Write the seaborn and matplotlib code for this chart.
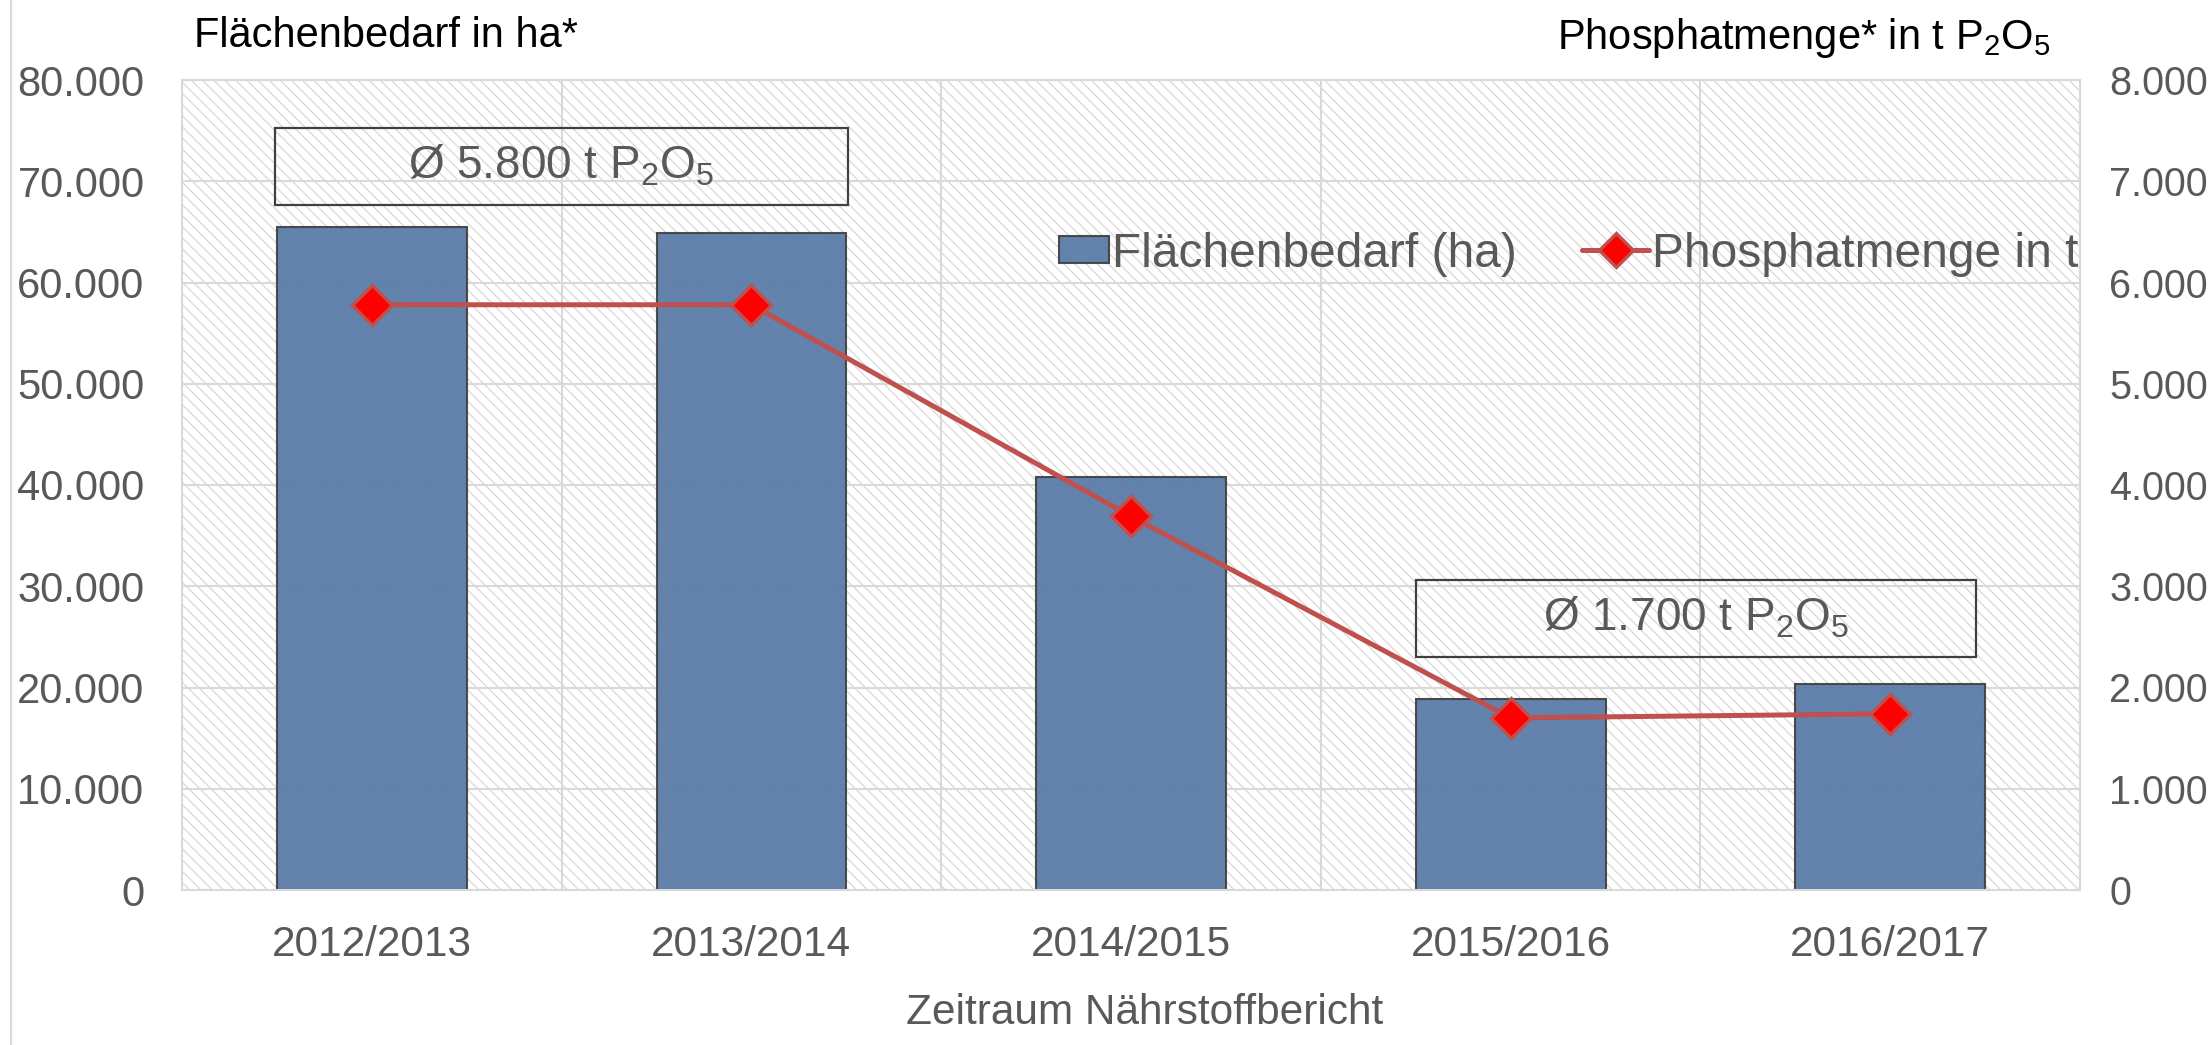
import numpy as np
import matplotlib
matplotlib.use('Agg')
import matplotlib.pyplot as plt
from matplotlib.patches import Rectangle
from matplotlib.lines import Line2D
from matplotlib.legend_handler import HandlerPatch
from matplotlib.ticker import FuncFormatter, MultipleLocator
import seaborn as sns

# Data
periods = ['2012/2013', '2013/2014', '2014/2015', '2015/2016', '2016/2017']
area_ha = [65500, 64900, 40750, 18900, 20350]
phosphate_t = [5780, 5780, 3690, 1700, 1740]

# Average annotations: (text, x-from, x-to, y-from, y-to) in category / hectare units
avg_notes = [
    ('Ø 5.800 t P$_2$O$_5$', -0.255, 1.254, 67700, 75300),
    ('Ø 1.700 t P$_2$O$_5$', 2.75, 4.227, 23050, 30660),
]

BAR_COLOR = '#577aa7'
LINE_COLOR = '#c0504d'
GRID = '#d9d9d9'
TEXT = '#595959'

sns.set_theme(style='white')
plt.rcParams['font.family'] = ['Liberation Sans', 'DejaVu Sans']
plt.rcParams['mathtext.fontset'] = 'custom'
plt.rcParams['mathtext.rm'] = 'Liberation Sans'
plt.rcParams['mathtext.it'] = 'Liberation Sans'
plt.rcParams['mathtext.default'] = 'regular'
plt.rcParams['hatch.linewidth'] = 0.9


def thousands(v, pos):
    return f'{int(round(v)):,}'.replace(',', '.')


def narrow_patch(legend, orig_handle, xdescent, ydescent, width, height, fontsize):
    w = width * 0.75
    h = height * 0.8
    return Rectangle((-xdescent + width - w, -ydescent + (height - h) / 2), w, h)


fig = plt.figure(figsize=(22.1, 10.45), dpi=100)
ax = fig.add_axes([182 / 2210, 1 - 890 / 1045, (2080 - 182) / 2210, 810 / 1045])

# hatched plot area like the Excel original
ax.patch.set_facecolor('white')
ax.patch.set_hatch('\\\\\\')
ax.patch.set_edgecolor('#d8d8d8')
ax.patch.set_linewidth(0)

sns.barplot(x=periods, y=area_ha, ax=ax, color=BAR_COLOR, saturation=1, alpha=0.93,
            width=0.5, edgecolor='#404040', linewidth=1.5, zorder=2)
ax.set_ylim(0, 80000)
ax.set_xlim(-0.5, len(periods) - 0.5)
ax.yaxis.set_major_locator(MultipleLocator(10000))
ax.yaxis.set_major_formatter(FuncFormatter(thousands))
ax.set_xticks(np.arange(-0.5, len(periods), 1), minor=True)
ax.set_axisbelow(True)
ax.grid(which='major', axis='y', color=GRID, lw=1.5)
ax.grid(which='minor', axis='x', color=GRID, lw=1.5)
ax.grid(which='major', axis='x', visible=False)
ax.tick_params(axis='y', which='both', length=0, pad=27, labelsize=30, labelcolor=TEXT)
ax.tick_params(axis='x', which='both', length=0, pad=25, labelsize=30.5, labelcolor=TEXT)
ax.set_xlabel('Zeitraum Nährstoffbericht', fontsize=30.5, color=TEXT, labelpad=20)
ax.xaxis.label.set_x(0.507)
ax.set_ylabel('')
for sp in ax.spines.values():
    sp.set_color(GRID)
    sp.set_linewidth(1.5)

for label, x0, x1, y0, y1 in avg_notes:
    ax.add_patch(Rectangle((x0, y0), x1 - x0, y1 - y0, fill=False,
                           edgecolor='#404040', lw=1.6, zorder=3))
    ax.text((x0 + x1) / 2, (y0 + y1) / 2, label, ha='center', va='center',
            fontsize=33, color=TEXT, zorder=4)

ax2 = ax.twinx()
sns.lineplot(x=np.arange(len(periods)), y=phosphate_t, ax=ax2, color=LINE_COLOR,
             lw=3.6, marker='D', markersize=20, markerfacecolor='#ff0000',
             markeredgecolor=LINE_COLOR, markeredgewidth=2.4)
ax2.set_ylim(0, 8000)
ax2.yaxis.set_major_locator(MultipleLocator(1000))
ax2.yaxis.set_major_formatter(FuncFormatter(thousands))
ax2.tick_params(axis='y', length=0, pad=21, labelsize=28.5, labelcolor=TEXT)
ax2.set_ylabel('')
ax2.grid(False)
for sp in ax2.spines.values():
    sp.set_visible(False)

handles = [
    Rectangle((0, 0), 1, 1, facecolor=BAR_COLOR, alpha=0.93, edgecolor='#404040', lw=1.5),
    Line2D([], [], color=LINE_COLOR, lw=3.6, marker='D', markersize=17,
           markerfacecolor='#ff0000', markeredgecolor=LINE_COLOR, markeredgewidth=2.4),
]
leg = ax2.legend(handles, ['Flächenbedarf (ha)', 'Phosphatmenge in t'],
                 loc='center right', bbox_to_anchor=(0.999, 0.785), ncol=2,
                 frameon=False, fontsize=34.5, handlelength=1.4, handletextpad=0.05,
                 columnspacing=1.37, borderpad=0, borderaxespad=0,
                 handler_map={Rectangle: HandlerPatch(patch_func=narrow_patch)})
for t in leg.get_texts():
    t.set_color(TEXT)

fig.text(194 / 2210, 1 - 36 / 1045, 'Flächenbedarf in ha*', fontsize=30,
         color='black', ha='left', va='center')
fig.text(2050 / 2210, 1 - 38 / 1045, 'Phosphatmenge* in t P$_2$O$_5$', fontsize=30,
         color='black', ha='right', va='center')

# thin frame line on the left edge of the chart area
fig.add_artist(Line2D([11 / 2210, 11 / 2210], [0, 1], color=GRID, lw=1.5,
                      transform=fig.transFigure))

fig.savefig('out.png', dpi=100)
